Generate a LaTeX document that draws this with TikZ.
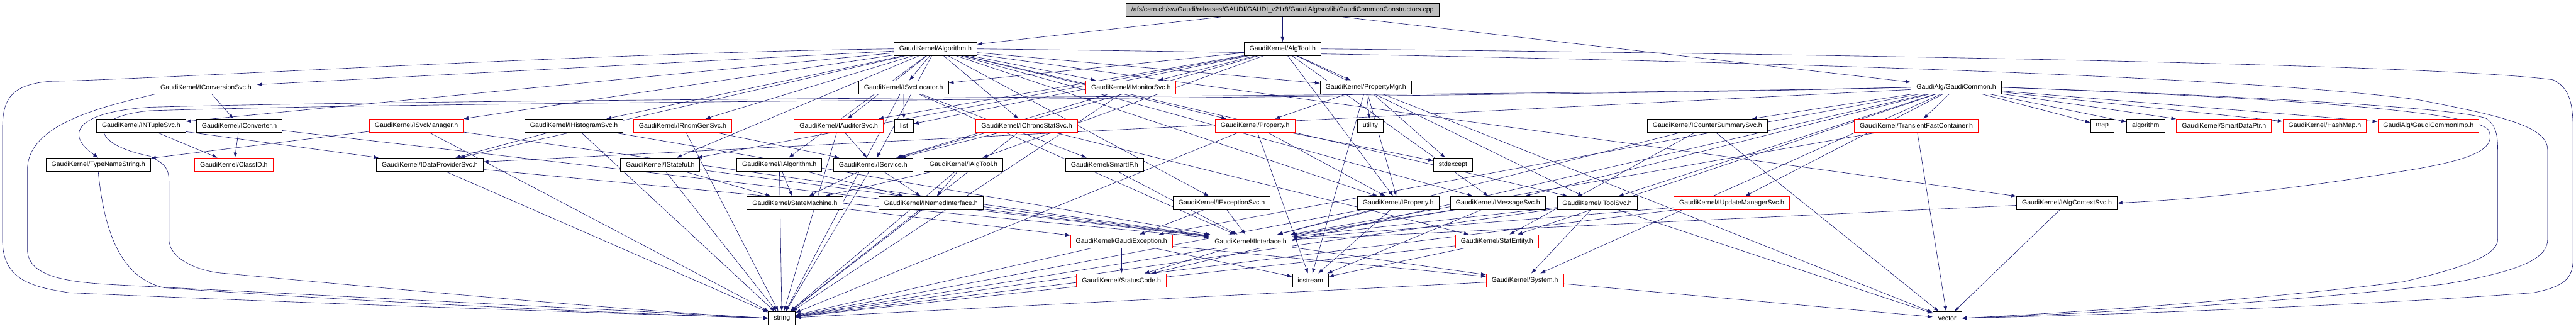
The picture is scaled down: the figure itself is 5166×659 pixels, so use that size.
\documentclass[tikz,border=0pt]{standalone}
\usepackage{fontspec}
\setmainfont{Liberation Sans}
\usepackage{xcolor}
\usetikzlibrary{arrows.meta,backgrounds}
\definecolor{edgeblue}{HTML}{191970}

\begin{document}
\begin{tikzpicture}[x=0.75pt, y=-0.75pt,
  hdr/.style={draw=black, line width=0.75pt, fill=white, minimum height=20pt,
    inner xsep=8pt, inner ysep=0pt, font=\fontsize{10}{12}\selectfont},
  hdrcut/.style={hdr, draw=red},
  dep/.style={draw=edgeblue, line width=0.6pt, -{Latex[length=7.5pt,width=5.5pt]}}]
\useasboundingbox (0,0) rectangle (5166,659);

% Source file
\node[hdr, fill=gray!50] (root) at (2572,20) {/afs/cern.ch/sw/Gaudi/releases/GAUDI/GAUDI\_v21r8/GaudiAlg/src/lib/GaudiCommonConstructors.cpp};

% First level
\node[hdr] (alg) at (1876,98) {GaudiKernel/Algorithm.h};
\node[hdr] (algtool) at (2572,98) {GaudiKernel/AlgTool.h};

% Second level
\node[hdr] (convsvc) at (413,175) {GaudiKernel/IConversionSvc.h};
\node[hdr] (svcloc) at (1812,175) {GaudiKernel/ISvcLocator.h};
\node[hdrcut] (monsvc) at (2268,175) {GaudiKernel/IMonitorSvc.h};
\node[hdr] (propmgr) at (2739,175) {GaudiKernel/PropertyMgr.h};
\node[hdr] (gcommon) at (3923,175) {GaudiAlg/GaudiCommon.h};

% Third level
\node[hdr] (ntuple) at (283,252) {GaudiKernel/INTupleSvc.h};
\node[hdr] (conv) at (480,252) {GaudiKernel/IConverter.h};
\node[hdrcut] (svcmgr) at (835,252) {GaudiKernel/ISvcManager.h};
\node[hdr] (histo) at (1151,252) {GaudiKernel/IHistogramSvc.h};
\node[hdrcut] (rndm) at (1369,252) {GaudiKernel/IRndmGenSvc.h};
\node[hdrcut] (auditor) at (1682,252) {GaudiKernel/IAuditorSvc.h};
\node[hdr] (list) at (1813,252) {list};
\node[hdrcut] (chrono) at (2059,252) {GaudiKernel/IChronoStatSvc.h};
\node[hdrcut] (prop) at (2517,252) {GaudiKernel/Property.h};
\node[hdr] (utility) at (2748,252) {utility};
\node[hdr] (counter) at (3424,252) {GaudiKernel/ICounterSummarySvc.h};
\node[hdrcut] (tfc) at (3843,252) {GaudiKernel/TransientFastContainer.h};
\node[hdr] (map) at (4216,252) {map};
\node[hdr] (algo) at (4303,252) {algorithm};
\node[hdrcut] (sdp) at (4460,252) {GaudiKernel/SmartDataPtr.h};
\node[hdrcut] (hashmap) at (4662,252) {GaudiKernel/HashMap.h};
\node[hdrcut] (gcimp) at (4870,252) {GaudiAlg/GaudiCommonImp.h};

% Fourth level
\node[hdr] (tns) at (197,330) {GaudiKernel/TypeNameString.h};
\node[hdrcut] (clid) at (469,330) {GaudiKernel/ClassID.h};
\node[hdr] (dps) at (862,330) {GaudiKernel/IDataProviderSvc.h};
\node[hdr] (stateful) at (1324,330) {GaudiKernel/IStateful.h};
\node[hdr] (ialg) at (1563,330) {GaudiKernel/IAlgorithm.h};
\node[hdr] (isvc) at (1751,330) {GaudiKernel/IService.h};
\node[hdr] (ialgtool) at (1932,330) {GaudiKernel/IAlgTool.h};
\node[hdr] (smartif) at (2215,330) {GaudiKernel/SmartIF.h};
\node[hdr] (stdexcept) at (2914,330) {stdexcept};

% Fifth level
\node[hdr] (sm) at (1594,407) {GaudiKernel/StateMachine.h};
\node[hdr] (named) at (1867,407) {GaudiKernel/INamedInterface.h};
\node[hdr] (excsvc) at (2450,407) {GaudiKernel/IExceptionSvc.h};
\node[hdr] (iprop) at (2804,407) {GaudiKernel/IProperty.h};
\node[hdr] (msgsvc) at (3004,407) {GaudiKernel/IMessageSvc.h};
\node[hdr] (toolsvc) at (3203,407) {GaudiKernel/IToolSvc.h};
\node[hdrcut] (updsvc) at (3473,407) {GaudiKernel/IUpdateManagerSvc.h};
\node[hdr] (ctxsvc) at (4145,407) {GaudiKernel/IAlgContextSvc.h};

% Lower levels
\node[hdrcut] (gexc) at (2249,484) {GaudiKernel/GaudiException.h};
\node[hdrcut] (iif) at (2508,484) {GaudiKernel/IInterface.h};
\node[hdrcut] (statent) at (3002,484) {GaudiKernel/StatEntity.h};
\node[hdrcut] (sc) at (2249,562) {GaudiKernel/StatusCode.h};
\node[hdr] (iostream) at (2628,562) {iostream};
\node[hdrcut] (system) at (3058,562) {GaudiKernel/System.h};
\node[hdr] (string) at (1568,638) {string};
\node[hdr] (vector) at (3905,638) {vector};

\begin{pgfonlayer}{background}
% Includes of the source file
\draw[dep] (root) -- (alg);
\draw[dep] (root) -- (algtool);
\draw[dep] (root) -- (gcommon);

% Algorithm.h
\draw[dep] (alg) -- (convsvc);
\draw[dep] (alg) -- (ntuple);
\draw[dep] (alg) -- (svcmgr);
\draw[dep] (alg) -- (histo);
\draw[dep] (alg) -- (rndm);
\draw[dep] (alg) -- (auditor);
\draw[dep] (alg) -- (svcloc);
\draw[dep] (alg) -- (monsvc);
\draw[dep] (alg) -- (chrono);
\draw[dep] (alg) -- (prop);
\draw[dep] (alg) -- (propmgr);
\draw[dep] (alg) -- (dps);
\draw[dep] (alg) -- (stateful);
\draw[dep] (alg) -- (ialg);
\draw[dep] (alg) -- (isvc);
\draw[dep] (alg) -- (iprop);
\draw[dep] (alg) -- (msgsvc);
\draw[dep] (alg) -- (toolsvc);
\draw[dep] (alg) -- (excsvc);
\draw[dep] (alg) -- (ctxsvc);
\draw[dep] (alg.west) .. controls (1200,105) and (300,160) .. (100,163) .. controls (20,170) and (5,200) .. (5,260) -- (5,480) .. controls (5,560) and (60,575) .. (140,587) .. controls (700,612) and (1300,630) .. (string.west);
\draw[dep] (alg.east) .. controls (3000,110) and (4400,140) .. (4850,200) .. controls (5000,230) and (5109,250) .. (5109,300) -- (5109,480) .. controls (5109,520) and (5050,545) .. (4900,570) .. controls (4500,615) and (4100,632) .. (vector.east);

% AlgTool.h
\draw[dep] (algtool) -- (ialgtool);
\draw[dep] (algtool) -- (iprop);
\draw[dep] (algtool) -- (isvc);
\draw[dep] (algtool) -- (svcloc);
\draw[dep] (algtool) -- (msgsvc);
\draw[dep] (algtool) -- (toolsvc);
\draw[dep] (algtool) -- (propmgr);
\draw[dep] (algtool) -- (auditor);
\draw[dep] (algtool) -- (monsvc);
\draw[dep] (algtool) -- (stateful);
\draw[dep] (algtool) -- (list);
\draw[dep] (algtool.east) .. controls (3800,110) and (4900,130) .. (5120,160) .. controls (5150,175) and (5160,200) .. (5160,260) -- (5160,520) .. controls (5160,560) and (5140,575) .. (5080,587) .. controls (4700,615) and (4200,632) .. (vector.east);

% GaudiCommon.h
\draw[dep] (gcommon) -- (counter);
\draw[dep] (gcommon) -- (tfc);
\draw[dep] (gcommon) -- (map);
\draw[dep] (gcommon) -- (algo);
\draw[dep] (gcommon) -- (sdp);
\draw[dep] (gcommon) -- (hashmap);
\draw[dep] (gcommon) -- (gcimp);
\draw[dep] (gcommon) -- (updsvc);
\draw[dep] (gcommon) -- (statent);
\draw[dep] (gcommon) -- (system);
\draw[dep] (gcommon) -- (gexc);
\draw[dep] (gcommon) -- (msgsvc);
\draw[dep] (gcommon) -- (toolsvc);
\draw[dep] (gcommon) -- (dps);
\draw[dep] (gcommon) -- (sc);
\draw[dep] (gcommon.west) .. controls (3000,195) and (1000,195) .. (300,215) .. controls (150,225) and (130,270) .. (tns.north);
\draw[dep] (gcommon.west) .. controls (3000,198) and (1000,200) .. (300,222) .. controls (170,235) and (185,290) .. (300,313) .. controls (335,330) and (339,340) .. (339,370) -- (339,480) .. controls (339,520) and (400,545) .. (450,548) .. controls (900,590) and (1300,625) .. (string.west);
\draw[dep] (gcommon.east) .. controls (4300,185) and (4900,210) .. (4985,237) .. controls (5005,250) and (5009,270) .. (5009,300) -- (5009,480) .. controls (5009,510) and (4950,535) .. (4819,565) .. controls (4500,605) and (4100,630) .. (vector.east);
\draw[dep] (gcommon.east) .. controls (4400,190) and (4950,215) .. (4990,260) .. controls (5010,300) and (4950,320) .. (4850,338) .. controls (4600,380) and (4400,400) .. (ctxsvc.east);

% Services
\draw[dep] (convsvc) -- (conv);
\draw[dep] (convsvc.south west) .. controls (200,215) and (55,250) .. (55,340) -- (55,500) .. controls (55,560) and (150,567) .. (250,572) .. controls (800,600) and (1300,625) .. (string.west);
\draw[dep] (ntuple) -- (clid);
\draw[dep] (ntuple) -- (dps);
\draw[dep] (conv) -- (clid);
\draw[dep] (conv) -- (iif);
\draw[dep] (svcmgr) -- (tns);
\draw[dep] (svcmgr) -- (iif);
\draw[dep] (svcmgr) -- (string);
\draw[dep] (histo) -- (dps);
\draw[dep] (histo) -- (string);
\draw[dep] (histo) -- (iif);
\draw[dep] (rndm) -- (isvc);
\draw[dep] (rndm) -- (string);
\draw[dep] (auditor) -- (isvc);
\draw[dep] (auditor) -- (string);
\draw[dep] (svcloc) -- (list);
\draw[dep] (svcloc) -- (smartif);
\draw[dep] (svcloc) -- (iif);
\draw[dep] (svcloc) -- (string);
\draw[dep] (monsvc) -- (isvc);
\draw[dep] (monsvc) -- (string);
\draw[dep] (chrono) -- (isvc);
\draw[dep] (chrono) -- (statent);
\draw[dep] (chrono) -- (string);

% Properties
\draw[dep] (prop) -- (iprop);
\draw[dep] (prop) -- (stdexcept);
\draw[dep] (prop) -- (iostream);
\draw[dep] (prop) -- (string);
\draw[dep] (propmgr) -- (prop);
\draw[dep] (propmgr) -- (utility);
\draw[dep] (propmgr) -- (iprop);
\draw[dep] (propmgr) -- (stdexcept);
\draw[dep] (propmgr) -- (iostream);
\draw[dep] (propmgr) -- (vector);

% Counters and containers
\draw[dep] (counter) -- (iif);
\draw[dep] (counter) -- (statent);
\draw[dep] (counter) -- (vector);
\draw[dep] (tfc) -- (iif);
\draw[dep] (tfc) -- (vector);
\draw[dep] (tns.south) .. controls (210,480) and (250,560) .. (330,577) .. controls (800,610) and (1300,630) .. (string.west);
\draw[dep] (dps) -- (iif);
\draw[dep] (dps) -- (string);

% Components
\draw[dep] (stateful) -- (sm);
\draw[dep] (stateful) -- (iif);
\draw[dep] (stateful) -- (string);
\draw[dep] (ialg) -- (sm);
\draw[dep] (ialg) -- (named);
\draw[dep] (ialg) -- (string);
\draw[dep] (isvc) -- (sm);
\draw[dep] (isvc) -- (named);
\draw[dep] (isvc) -- (string);
\draw[dep] (ialgtool) -- (named);
\draw[dep] (ialgtool) -- (sm);
\draw[dep] (ialgtool) -- (string);
\draw[dep] (smartif) -- (iif);
\draw[dep] (sm) -- (gexc);
\draw[dep] (named) -- (iif);
\draw[dep] (named) -- (string);
\draw[dep] (excsvc) -- (gexc);
\draw[dep] (excsvc) -- (iif);
\draw[dep] (iprop) -- (iif);
\draw[dep] (iprop) -- (iostream);
\draw[dep] (iprop) -- (string);
\draw[dep] (msgsvc) -- (iif);
\draw[dep] (msgsvc) -- (iostream);
\draw[dep] (msgsvc) -- (string);
\draw[dep] (toolsvc) -- (iif);
\draw[dep] (toolsvc) -- (system);
\draw[dep] (toolsvc) -- (vector);
\draw[dep] (toolsvc) -- (string);
\draw[dep] (updsvc) -- (iif);
\draw[dep] (updsvc) -- (string);
\draw[dep] (ctxsvc) -- (iif);
\draw[dep] (ctxsvc) -- (vector);

% Basics
\draw[dep] (gexc) -- (sc);
\draw[dep] (gexc) -- (string);
\draw[dep] (gexc) -- (iostream);
\draw[dep] (gexc) -- (system);
\draw[dep] (iif) -- (sc);
\draw[dep] (iif) -- (system);
\draw[dep] (statent) -- (iostream);
\draw[dep] (statent) -- (string);
\draw[dep] (system) -- (string);
\draw[dep] (system) -- (vector);
\end{pgfonlayer}
\end{tikzpicture}
\end{document}
